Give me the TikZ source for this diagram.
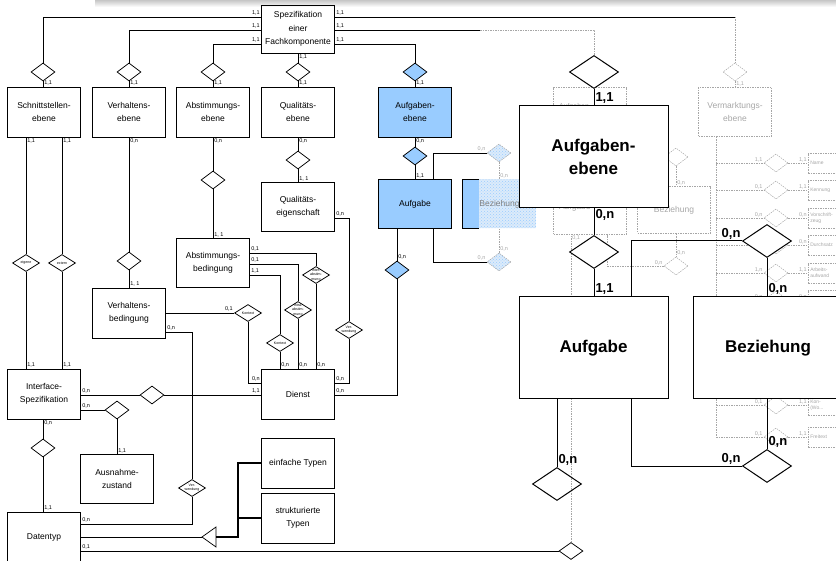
\documentclass[tikz,border=0pt]{standalone}
\usepackage{fontspec}
\setmainfont{Liberation Sans}
\usetikzlibrary{shapes.geometric}
\usetikzlibrary{patterns}
\definecolor{aufgblue}{HTML}{99CCFF}
\definecolor{fadegray}{HTML}{A6A6A6}
\definecolor{fadeblue}{HTML}{DCEBFA}
\newcommand{\sizeto}[2]{\fontsize{#1pt}{#2pt}\selectfont}

\begin{document}
\begin{tikzpicture}[x=1pt, y=-1pt, line width=0.75pt,
	ent/.style={draw, rectangle, minimum width=73pt, minimum height=50pt, inner sep=1pt, align=center, font=\sizeto{8.5}{13.5}},
	rel/.style={draw, diamond, minimum width=24pt, minimum height=18pt, inner sep=0pt},
	relt/.style={rel, minimum width=27pt, minimum height=17pt, label={[font=\sizeto{3.6}{4.2}, align=center, inner sep=0pt]center:#1}},
	card/.style={font=\sizeto{5.5}{6}, inner sep=1pt},
	fcard/.style={card, text=fadegray},
	faded/.style={draw=fadegray, dash pattern=on 1.5pt off 1pt, line width=0.5pt, text=fadegray},
	bigent/.style={draw, rectangle, fill=white, line width=1pt, minimum width=149pt, minimum height=102pt, align=center, font=\bfseries\sizeto{17}{23}},
	bigrel/.style={draw, diamond, fill=white, line width=1pt, minimum width=49pt, minimum height=33pt, inner sep=0pt},
	bcard/.style={font=\bfseries\sizeto{13}{13}, inner sep=1pt},
	big/.style={line width=1pt}]

		\useasboundingbox (0,0) rectangle (836,561);
		\clip (0,0) rectangle (836,561);

		\coordinate (yA) at (0,17);
		\coordinate (yB) at (0,30);
		\coordinate (yC) at (0,44);
		\coordinate (yQ) at (0,218);
		\coordinate (yE1) at (0,253);
		\coordinate (yE2) at (0,264);
		\coordinate (yE3) at (0,275);
		\coordinate (yV) at (0,332);
		\coordinate (yD1) at (0,383);
		\coordinate (yD2) at (0,395);
		\coordinate (yT1) at (0,524);
		\coordinate (yT3) at (0,551);
		\coordinate (xAB) at (433,0);
		\coordinate (xG) at (238,0);
		\coordinate (xS) at (716,0);
		\coordinate (xF) at (607,0);
		\coordinate (xR) at (631,0);
		\coordinate (cutB) at (480,30);
		\coordinate (genTip) at (202,537);
		\coordinate (genBase) at (216,537);

		\shade[top color=gray!45, bottom color=white] (95,0) rectangle (836,7);

		\node[ent, faded, text width=62pt, align=left, font=\sizeto{7}{11}] (fAufgE) at (590,112) {Aufgaben-\\ebene};
		\node[ent, faded, text width=62pt, align=left, minimum height=55pt] (fAufg) at (590,207) {Aufgabe};
		\node[ent, faded, minimum height=47pt] (fBez) at (674,210) {Beziehung};
		\node[ent, faded, minimum height=49pt] (fVerm) at (735,112) {Vermarktungs-\\ebene};
		\node[rel, faded] (fdVerm) at (735,72) {};
		\node[rel, faded] (fdB1) at (676,157) {};
		\node[rel, faded] (fdB2) at (676,266) {};
		\draw[faded] (fdVerm.south) -- node[pos=1, fcard, anchor=south west]{1,1} (fVerm.north);
		\draw[faded] (fdB1.south) -- node[pos=1, fcard, anchor=south west]{0,n} (fdB1.south |- fBez.north);
		\draw[faded] (fdB2.north |- fBez.south) -- node[pos=1, fcard, anchor=south west]{0,n} (fdB2.north);
		\draw[faded] (fdB2.west) node[fcard, anchor=south east]{0,n} -| (fAufg.south -| xF);
		\draw[faded] (fVerm.south -| xS) -- (xS |- 0,437);

		\foreach \i/\y/\cl/\cr/\t in {1/163/{1,1}/{1,1}/Name, 2/190/{0,1}/{1,1}/Kennung, 3/218/{0,n}/{0,n}/{Vorschrift-\\zeug}, 4/245/{0,n}/{0,n}/Durchsatz, 5/273/{1,n}/{1,1}/{Arbeits-\\aufwand}, 6/300/{0,n}/{0,n}/Teil, 7/405/{0,1}/{1,1}/{Kon-\\(Wo...}, 8/437/{0,1}/{1,1}/Freitext}{
			\node[rel, faded] (fr\i) at (776,\y) {};
			\node[faded, rectangle, minimum height=20pt, text width=44pt, inner sep=2pt, anchor=west, align=left, font=\sizeto{5}{6}] (fb\i) at (808,\y) {\t};
			\draw[faded] (xS |- fr\i.west) -- node[pos=1, fcard, anchor=south east]{\cl} (fr\i.west);
			\draw[faded] (fr\i.east) -- node[pos=1, fcard, anchor=south east]{\cr} (fb\i.west);
		}

		\node[ent, minimum height=48pt] (Spez) at (298,29) {Spezifikation\\einer\\Fachkomponente};
		\node[rel] (dSchn) at (43,72) {};
		\node[rel] (dVerh) at (129,72) {};
		\node[rel] (dAbst) at (213,72) {};
		\node[rel] (dQual) at (298,72) {};
		\node[rel, fill=aufgblue] (dAufgE) at (415,72) {};
		\node[ent] (SchnE) at (44,112) {Schnittstellen-\\ebene};
		\node[ent] (VerhE) at (129,112) {Verhaltens-\\ebene};
		\node[ent] (AbstE) at (213,112) {Abstimmungs-\\ebene};
		\node[ent] (QualE) at (298,112) {Qualitäts-\\ebene};
		\node[ent, fill=aufgblue] (AufgE) at (415,112) {Aufgaben-\\ebene};

		\node[relt=eigene] (dEig) at (26,263) {};
		\node[relt=extern] (dExt) at (62,263) {};
		\node[rel] (dVerhB) at (129,261) {};
		\node[rel] (dAbstB) at (213,180) {};
		\node[rel] (dQualEig) at (298,160) {};
		\node[rel, fill=aufgblue] (dAufgB) at (415,156) {};
		\node[ent, minimum height=49pt] (QualEig) at (298,207) {Qualitäts-\\eigenschaft};
		\node[ent, minimum height=49pt] (AbstB) at (213,263) {Abstimmungs-\\bedingung};
		\node[ent] (VerhB) at (129,313) {Verhaltens-\\bedingung};
		\node[ent, fill=aufgblue, minimum height=49pt] (AufgB) at (415,204) {Aufgabe};

		\node[ent, draw=none, preaction={fill=fadeblue}, pattern=crosshatch dots, pattern color=aufgblue, minimum height=49pt] (BezB) at (499.5,204) {};
		\fill[aufgblue] (BezB.north west) rectangle ([xshift=16pt]BezB.south west);
		\draw ([xshift=16pt]BezB.north west) -- (BezB.north west) -- (BezB.south west) -- ([xshift=16pt]BezB.south west);
		\node[font=\sizeto{8.5}{10}, text=gray] (BezT) at (BezB) {Beziehung};
		\node[rel, faded, preaction={fill=fadeblue}, pattern=crosshatch dots, pattern color=aufgblue] (dBez1) at (499,153) {};
		\node[rel, faded, preaction={fill=fadeblue}, pattern=crosshatch dots, pattern color=aufgblue] (dBez2) at (499,262) {};

		\node[relt={Inter-\\abstim-\\mung}] (dAb1) at (316,275) {};
		\node[relt={Intra-\\abstim-\\mung}] (dAb2) at (298,310) {};
		\node[relt=Kontext] (dKont2) at (280,343) {};
		\node[relt=Kontext] (dKont1) at (248,313) {};
		\node[relt={Ver-\\wendung}] (dVerw1) at (349,330) {};
		\node[relt={Ver-\\wendung}] (dVerw2) at (192,488) {};
		\node[rel, fill=aufgblue] (dAufgD) at (397,270) {};

		\node[ent] (IntSp) at (44,394) {Interface-\\Spezifikation};
		\node[ent] (Dienst) at (298,394) {Dienst};
		\node[rel] (dIS) at (152,395) {};
		\node[rel] (dAusn) at (117,410) {};
		\node[ent, minimum height=49pt] (Ausn) at (117,479) {Ausnahme-\\zustand};
		\node[rel] (dDT) at (43,448) {};
		\node[ent] (Datentyp) at (44,537) {Datentyp};
		\node[ent] (EinfT) at (298,463) {einfache Typen};
		\node[ent] (StrukT) at (298,518) {strukturierte\\Typen};
		\node[rel, minimum height=17pt] (dDTf) at (571,551) {};

		\draw (Spez.west |- yA) node[card, anchor=south east]{1,1} -| (dSchn.north);
		\draw (Spez.west |- yB) node[card, anchor=south east]{1,1} -| (dVerh.north);
		\draw (Spez.west |- yC) node[card, anchor=south east]{1,1} -| (dAbst.north);
		\draw (Spez.south) node[card, anchor=north west]{1,1} -- (dQual.north);
		\draw (Spez.east |- yC) node[card, anchor=south west]{1,1} -| (dAufgE.north);
		\draw (Spez.east |- yB) node[card, anchor=south west]{1,1} -- (cutB);
		\draw (Spez.east |- yA) node[card, anchor=south west]{1,1} -- (fdVerm.north |- yA);
		\draw[faded] (fdVerm.north |- yA) -- (fdVerm.north);
		\foreach \d/\e in {dSchn/SchnE, dVerh/VerhE, dAbst/AbstE, dQual/QualE, dAufgE/AufgE}
			\draw (\d.south) -- node[pos=1, card, anchor=south west]{1,1} (\d.south |- \e.north);

		\draw (dEig.north |- SchnE.south) node[card, anchor=north west]{1,1} -- (dEig.north);
		\draw (dEig.south) -- node[pos=1, card, anchor=south west]{1,1} (dEig.south |- IntSp.north);
		\draw (dExt.north |- SchnE.south) node[card, anchor=north west]{1,1} -- (dExt.north);
		\draw (dExt.south) -- node[pos=1, card, anchor=south west]{1,1} (dExt.south |- IntSp.north);
		\draw (VerhE.south) node[card, anchor=north west]{0,n} -- (dVerhB.north);
		\draw (dVerhB.south) -- node[pos=1, card, anchor=south west]{1, 1} (VerhB.north);
		\draw (AbstE.south) node[card, anchor=north west]{0,n} -- (dAbstB.north);
		\draw (dAbstB.south) -- node[pos=1, card, anchor=south west]{1, 1} (AbstB.north);
		\draw (QualE.south) node[card, anchor=north west]{0,n} -- (dQualEig.north);
		\draw (dQualEig.south) -- node[pos=1, card, anchor=south west]{1, 1} (QualEig.north);
		\draw (AufgE.south) node[card, anchor=north west]{0,n} -- (dAufgB.north);
		\draw (dAufgB.south) -- node[pos=1, card, anchor=south west]{1,1} (AufgB.north);

		\draw (AufgB.north -| xAB) |- node[pos=1, fcard, anchor=south east]{0,n} (dBez1.west);
		\draw (AufgB.south -| xAB) |- node[pos=1, fcard, anchor=south east]{0,n} (dBez2.west);
		\draw[faded] (dBez1.south) -- node[pos=1, fcard, anchor=south west]{0,n} (dBez1.south |- BezB.north);
		\draw[faded] (dBez2.north) node[fcard, anchor=south west]{0,n} -- (dBez2.north |- BezB.south);

		\draw (AbstB.east |- yE1) node[card, anchor=south west]{0,1} -| (dAb1.north);
		\draw (AbstB.east |- yE2) node[card, anchor=south west]{0,1} -| (dAb2.north);
		\draw (AbstB.east |- yE3) node[card, anchor=south west]{1,1} -| (dKont2.north);
		\draw (dAb1.south) -- node[pos=1, card, anchor=south west]{0,n} (dAb1.south |- Dienst.north);
		\draw (dAb2.south) -- node[pos=1, card, anchor=south west]{0,n} (dAb2.south |- Dienst.north);
		\draw (dKont2.south) -- node[pos=1, card, anchor=south west]{0,n} (dKont2.south |- Dienst.north);
		\draw (QualEig.east |- yQ) node[card, anchor=south west]{0,n} -| (dVerw1.north);
		\draw (dVerw1.south) |- node[pos=1, card, anchor=south west]{0,n} (Dienst.east |- yD1);
		\draw (AufgB.south -| dAufgD) -- node[pos=1, card, anchor=south west]{0,n} (dAufgD.north);
		\draw (dAufgD.south) |- node[pos=1, card, anchor=south west]{0,n} (Dienst.east |- yD2);
		\draw (VerhB.east |- dKont1) -- node[pos=1, card, anchor=south east]{0,1} (dKont1.west);
		\draw (dKont1.south) |- node[pos=1, card, anchor=south east]{0,n} (Dienst.west |- yD1);
		\draw (VerhB.east |- yV) node[card, anchor=south west]{0,n} -| (dVerw2.north);
		\draw (dVerw2.south) |- node[pos=1, card, anchor=south west]{0,n} (Datentyp.east |- yT1);
		\draw (IntSp.east |- yD2) node[card, anchor=south west]{0,n} -- (dIS.west);
		\draw (dIS.east) -- node[pos=1, card, anchor=south east]{1,1} (Dienst.west |- dIS.east);
		\draw (IntSp.east |- dAusn) node[card, anchor=south west]{0,n} -- (dAusn.west);
		\draw (dAusn.south) -- node[pos=1, card, anchor=south west]{1,1} (dAusn.south |- Ausn.north);
		\draw (IntSp.south -| dDT) node[card, anchor=north west]{0,n} -- (dDT.north);
		\draw (dDT.south) -- node[pos=1, card, anchor=south west]{1,1} (dDT.south |- Datentyp.north);

		\draw (Datentyp.east) -- (genTip);
		\draw (genTip) -- ++(14,-10) -- ++(0,20) -- cycle;
		\draw[line width=1.1pt] (genBase) -| (xG |- EinfT.west) -- (EinfT.west);
		\draw[line width=1.1pt] (StrukT.west) -- (StrukT.west -| xG);
		\draw (Datentyp.east |- yT3) node[card, anchor=south west]{0,1} -- (dDTf.west);
		\draw[faded] (dDTf.north) -- node[pos=1, fcard, anchor=north west]{0,1} (dDTf.north |- fAufg.south);

		\node[bigrel] (bD1) at (594,72) {};
		\node[bigent] (bAufgE) at (593.5,156.5) {Aufgaben-\\ebene};
		\node[bigrel] (bD2) at (594,252) {};
		\node[bigent] (bAufg) at (593.5,348) {Aufgabe};
		\node[bigent, minimum width=150pt] (bBez) at (768,348) {Beziehung};
		\node[bigrel] (bD3) at (767,241) {};
		\node[bigrel] (bD4) at (557,484) {};
		\node[bigrel] (bD5) at (767,466) {};

		\draw[faded] (cutB) -| (bD1.north);
		\draw[faded] (dDTf.north) -- (dDTf.north |- bAufg.south);
		\draw[big] (bD1.south) -- node[pos=1, bcard, anchor=south west]{1,1} (bD1.south |- bAufgE.north);
		\draw[big] (bAufgE.south -| bD2) node[bcard, anchor=north west]{0,n} -- (bD2.north);
		\draw[big] (bD2.south) -- node[pos=1, bcard, anchor=south west]{1,1} (bD2.south |- bAufg.north);
		\draw[big] (bAufg.north -| xR) |- node[pos=1, bcard, anchor=south east]{0,n} (bD3.west);
		\draw[big] (bD3.south) -- node[pos=1, bcard, anchor=south west]{0,n} (bD3.south |- bBez.north);
		\draw[big] (bAufg.south -| bD4) -- node[pos=1, bcard, anchor=south west]{0,n} (bD4.north);
		\draw[big] (bAufg.south -| xR) |- node[pos=1, bcard, anchor=south east]{0,n} (bD5.west);
		\draw[big] (bD5.north) node[bcard, anchor=south west]{0,n} -- (bD5.north |- bBez.south);

	\end{tikzpicture}
\end{document}
